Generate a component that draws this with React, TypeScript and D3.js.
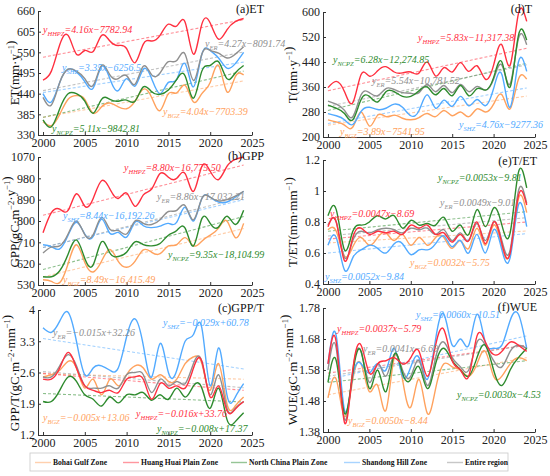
// @ts-nocheck
import React, { useEffect, useRef } from "react";
import * as d3 from "d3";

const years = [2000, 2001, 2002, 2003, 2004, 2005, 2006, 2007, 2008, 2009, 2010, 2011, 2012, 2013, 2014, 2015, 2016, 2017, 2018, 2019, 2020, 2021, 2022, 2023, 2024];
const xTicks = [2000, 2005, 2010, 2015, 2020, 2025];

// zone order: BGZ, HHPZ, NCPZ, SHZ, ER
const zoneNames = ["Bohai Gulf Zone", "Huang Huai Plain Zone", "North China Plain Zone", "Shandong Hill Zone", "Entire region"];
const zoneKeys = ["BGZ", "HHPZ", "NCPZ", "SHZ", "ER"];
const zoneColors = ["#ffa25e", "#ff2f3f", "#2e8b2e", "#52aaff", "#8f8f8f"];
const drawOrder = [0, 3, 4, 2, 1];

// (a) ET
const etBGZ = [365, 355, 385, 425, 435, 425, 388, 405, 415, 405, 400, 420, 452, 430, 395, 440, 442, 462, 418, 440, 470, 515, 445, 485, 490];
const etHHPZ = [476, 500, 570, 595, 545, 555, 552, 595, 580, 568, 560, 522, 572, 580, 595, 625, 620, 630, 545, 625, 628, 585, 610, 632, 640];
const etNCPZ = [370, 352, 400, 440, 440, 420, 388, 425, 425, 420, 423, 420, 458, 445, 438, 450, 478, 487, 428, 500, 515, 525, 480, 495, 515];
const etSHZ = [440, 418, 470, 505, 498, 472, 455, 512, 480, 448, 480, 460, 505, 480, 440, 470, 478, 520, 458, 545, 555, 535, 508, 520, 550];
const etER = [430, 410, 470, 505, 500, 480, 462, 515, 490, 480, 488, 465, 513, 490, 495, 525, 528, 545, 475, 545, 555, 548, 535, 545, 565];
const etTrendStart = [377, 537, 377, 443, 448];
const etTrendEnd = [474, 637, 500, 524, 551];
const etEqs = ["=4.04x\u22127703.39", "=4.16x\u22127782.94", "=5.11x\u22129842.81", "=3.35x\u22126256.5", "=4.27x\u22128091.74"];
const etTicks = [330, 385, 440, 495, 550, 605, 660];

// (d) T
const tBGZ = [255, 248, 238, 232, 280, 235, 270, 265, 270, 260, 255, 262, 275, 265, 285, 268, 280, 265, 290, 280, 305, 335, 290, 385, 385];
const tHHPZ = [358, 378, 345, 310, 400, 395, 412, 425, 408, 405, 408, 405, 440, 395, 422, 408, 438, 410, 428, 385, 430, 495, 430, 595, 570];
const tNCPZ = [302, 292, 275, 255, 320, 330, 312, 345, 345, 330, 330, 348, 360, 335, 355, 332, 365, 332, 355, 350, 390, 440, 360, 525, 510];
const tSHZ = [275, 268, 255, 240, 282, 295, 288, 292, 305, 295, 268, 285, 335, 292, 318, 298, 330, 300, 320, 300, 355, 400, 295, 440, 410];
const tER = [315, 305, 285, 265, 335, 342, 332, 355, 352, 342, 340, 342, 368, 345, 365, 342, 368, 345, 362, 350, 385, 430, 370, 515, 495];
const tTrendStart = [238, 348, 285, 243, 298];
const tTrendEnd = [331, 484, 436, 357, 431];
const tEqs = ["=3.89x\u22127541.95", "=5.83x\u221211,317.38", "=6.28x\u221212,274.85", "=4.76x\u22129277.36", "=5.54x\u221210,781.52"];
const tTicks = [200, 280, 360, 440, 520, 600];

// (b) GPP
const gppBGZ = [552, 545, 540, 620, 700, 625, 585, 630, 680, 630, 605, 630, 678, 668, 662, 695, 700, 730, 695, 715, 740, 770, 800, 730, 790];
const gppHHPZ = [750, 835, 850, 845, 915, 862, 895, 970, 935, 895, 918, 862, 910, 935, 1000, 985, 980, 1000, 925, 1030, 1010, 975, 1030, 1060, 1070];
const gppNCPZ = [565, 565, 590, 660, 720, 642, 615, 712, 665, 650, 668, 712, 700, 695, 705, 740, 760, 770, 695, 810, 790, 775, 820, 785, 845];
const gppSHZ = [700, 692, 682, 740, 795, 745, 735, 808, 748, 752, 732, 795, 780, 772, 778, 790, 795, 858, 800, 895, 900, 880, 880, 900, 925];
const gppER = [665, 690, 695, 745, 800, 742, 742, 815, 765, 760, 745, 800, 790, 785, 805, 840, 845, 865, 805, 895, 900, 885, 890, 905, 925];
const gppTrendStart = [564, 824, 595, 688, 688];
const gppTrendEnd = [768, 1036, 819, 890, 900];
const gppEqs = ["=8.49x\u221216,415.49", "=8.80x\u221216,775.50", "=9.35x\u221218,104.99", "=8.44x\u221216,192.26", "=8.86x\u221217,032.21"];
const gppTicks = [530, 620, 710, 800, 890, 980, 1070];

// (e) T/ET
const teBGZ = [0.75, 0.74, 0.58, 0.64, 0.7, 0.65, 0.7, 0.73, 0.68, 0.72, 0.65, 0.7, 0.65, 0.7, 0.7, 0.63, 0.68, 0.63, 0.76, 0.65, 0.78, 0.64, 0.6, 0.95, 0.86];
const teHHPZ = [0.77, 0.8, 0.55, 0.7, 0.76, 0.72, 0.74, 0.73, 0.74, 0.72, 0.78, 0.76, 0.78, 0.72, 0.73, 0.67, 0.72, 0.68, 0.8, 0.66, 0.8, 0.66, 0.6, 0.97, 0.91];
const teNCPZ = [0.84, 0.88, 0.62, 0.74, 0.78, 0.8, 0.84, 0.82, 0.84, 0.76, 0.81, 0.78, 0.79, 0.78, 0.83, 0.74, 0.78, 0.72, 0.88, 0.77, 0.89, 0.78, 0.73, 1.12, 1.02];
const teSHZ = [0.65, 0.7, 0.49, 0.57, 0.62, 0.65, 0.63, 0.6, 0.66, 0.66, 0.59, 0.62, 0.62, 0.66, 0.71, 0.64, 0.68, 0.6, 0.72, 0.6, 0.75, 0.62, 0.57, 0.91, 0.77];
const teER = [0.78, 0.8, 0.57, 0.68, 0.74, 0.73, 0.75, 0.76, 0.75, 0.73, 0.76, 0.75, 0.76, 0.72, 0.75, 0.68, 0.73, 0.68, 0.79, 0.68, 0.8, 0.68, 0.62, 1.0, 0.92];
const teTrendStart = [0.665, 0.69, 0.74, 0.6, 0.71];
const teTrendEnd = [0.742, 0.8, 0.867, 0.725, 0.828];
const teEqs = ["=0.0032x\u22125.75", "=0.0047x\u22128.69", "=0.0053x\u22129.81", "=0.0052x\u22129.84", "=0.0049x\u22129.01"];
const teTicks = [0.4, 0.6, 0.8, 1, 1.2];

// (c) GPP/T
const gtBGZ = [2.5, 2.55, 2.65, 2.85, 2.7, 2.25, 2.45, 2.1, 2.45, 2.3, 2.55, 2.75, 2.7, 2.45, 2.55, 2.4, 2.45, 2.8, 2.95, 2.8, 2.2, 2.8, 1.9, 1.85, 2.05];
const gtHHPZ = [2.45, 2.45, 2.7, 3.05, 2.7, 2.3, 2.2, 2.15, 2.2, 2.15, 2.45, 2.5, 2.45, 2.0, 2.35, 2.25, 2.3, 2.25, 2.7, 2.85, 2.05, 2.3, 1.75, 1.78, 1.95];
const gtNCPZ = [1.95, 1.95, 2.2, 2.5, 2.4, 2.1, 2.0, 1.85, 2.05, 1.92, 2.1, 2.1, 2.15, 1.98, 2.1, 2.0, 2.25, 2.05, 2.3, 2.25, 1.8, 2.25, 1.55, 1.5, 1.7];
const gtSHZ = [3.6, 3.5, 3.75, 3.95, 3.3, 2.55, 2.7, 2.75, 2.65, 2.7, 3.4, 3.8, 3.2, 2.5, 3.25, 2.6, 2.65, 3.3, 3.45, 3.6, 2.3, 3.15, 2.1, 2.05, 2.35];
const gtER = [2.5, 2.5, 2.75, 3.0, 2.75, 2.3, 2.25, 2.25, 2.3, 2.25, 2.55, 2.6, 2.55, 2.15, 2.45, 2.3, 2.4, 2.35, 2.8, 2.85, 2.1, 2.55, 1.8, 1.8, 1.95];
const gtTrendStart = [2.57, 2.58, 2.13, 3.36, 2.62];
const gtTrendEnd = [2.45, 2.2, 1.94, 2.68, 2.26];
const gtEqs = ["=\u22120.005x+13.06", "=\u22120.016x+33.76", "=\u22120.008x+17.37", "=\u22120.029x+60.78", "=\u22120.015x+32.26"];
const gtTicks = [1.2, 1.9, 2.6, 3.3, 4];

// (f) WUE
const wBGZ = [1.49, 1.55, 1.43, 1.55, 1.6, 1.51, 1.53, 1.45, 1.62, 1.55, 1.46, 1.55, 1.44, 1.52, 1.6, 1.59, 1.58, 1.56, 1.6, 1.64, 1.56, 1.56, 1.6, 1.62, 1.61];
const wHHPZ = [1.6, 1.67, 1.41, 1.58, 1.66, 1.57, 1.6, 1.61, 1.62, 1.6, 1.62, 1.64, 1.56, 1.66, 1.71, 1.61, 1.58, 1.56, 1.69, 1.67, 1.63, 1.64, 1.67, 1.66, 1.64];
const wNCPZ = [1.54, 1.61, 1.44, 1.57, 1.64, 1.52, 1.58, 1.51, 1.63, 1.57, 1.55, 1.59, 1.52, 1.6, 1.65, 1.61, 1.58, 1.56, 1.62, 1.66, 1.58, 1.53, 1.58, 1.62, 1.65];
const wSHZ = [1.6, 1.69, 1.45, 1.56, 1.6, 1.57, 1.6, 1.58, 1.65, 1.56, 1.59, 1.62, 1.55, 1.68, 1.76, 1.66, 1.68, 1.66, 1.76, 1.67, 1.65, 1.66, 1.74, 1.76, 1.65];
const wER = [1.58, 1.65, 1.42, 1.58, 1.64, 1.54, 1.6, 1.56, 1.63, 1.58, 1.56, 1.61, 1.53, 1.62, 1.67, 1.62, 1.59, 1.58, 1.67, 1.66, 1.61, 1.59, 1.64, 1.66, 1.65];
const wTrendStart = [1.5, 1.57, 1.54, 1.55, 1.56];
const wTrendEnd = [1.62, 1.66, 1.61, 1.69, 1.66];
const wEqs = ["=0.0050x\u22128.44", "=0.0037x\u22125.79", "=0.0030x\u22124.53", "=0.0060x\u221210.51", "=0.0041x\u22126.69"];
const wTicks = ["1.38", "1.48", "1.58", "1.68", "1.78"];

const serif = "'Liberation Serif', 'Times New Roman', serif";
const xDomain = [1999.4, 2025];

// layout of the six panels (pixel boxes, label spots)
const panels = [
  {
    title: "(a)ET", yLabel: [["ET(mm\u00b7y", 0], ["\u22121", 1], [")", 0]],
    series: [etBGZ, etHHPZ, etNCPZ, etSHZ, etER], trendStart: etTrendStart, trendEnd: etTrendEnd, eqs: etEqs,
    yDomain: [330, 660], yTicks: etTicks, left: 38, right: 252, top: 11, bottom: 135,
    titlePos: [264, 13], yLabelPos: [16, 73],
    eqPos: [[163, 115], [43, 33], [52, 132], [62, 71], [205, 47]],
  },
  {
    title: "(d)T", yLabel: [["T(mm\u00b7y", 0], ["\u22121", 1], [")", 0]],
    series: [tBGZ, tHHPZ, tNCPZ, tSHZ, tER], trendStart: tTrendStart, trendEnd: tTrendEnd, eqs: tEqs,
    yDomain: [200, 600], yTicks: tTicks, left: 323, right: 535, top: 12, bottom: 137,
    titlePos: [532, 13], yLabelPos: [294, 75],
    eqPos: [[340, 135], [418, 41], [333, 63], [459, 128], [372, 84]],
  },
  {
    title: "(b)GPP", yLabel: [["GPP(gC\u00b7m", 0], ["\u22122", 1], ["\u00b7y", 0], ["\u22121", 1], [")", 0]],
    series: [gppBGZ, gppHHPZ, gppNCPZ, gppSHZ, gppER], trendStart: gppTrendStart, trendEnd: gppTrendEnd, eqs: gppEqs,
    yDomain: [530, 1070], yTicks: gppTicks, left: 38, right: 252, top: 157, bottom: 285,
    titlePos: [264, 160], yLabelPos: [16, 222],
    eqPos: [[63, 283], [124, 171], [168, 258], [63, 219], [157, 200]],
  },
  {
    title: "(e)T/ET", yLabel: [["T/ET(mm\u00b7mm", 0], ["\u22121", 1], [")", 0]],
    series: [teBGZ, teHHPZ, teNCPZ, teSHZ, teER], trendStart: teTrendStart, trendEnd: teTrendEnd, eqs: teEqs,
    yDomain: [0.4, 1.2], yTicks: teTicks, left: 323, right: 535, top: 160, bottom: 284,
    titlePos: [537, 165], yLabelPos: [294, 222],
    eqPos: [[410, 266], [330, 217], [438, 181], [325, 280], [440, 206]],
  },
  {
    title: "(c)GPP/T", yLabel: [["GPP/T(gC\u00b7m", 0], ["\u22122", 1], ["\u00b7mm", 0], ["\u22121", 1], [")", 0]],
    series: [gtBGZ, gtHHPZ, gtNCPZ, gtSHZ, gtER], trendStart: gtTrendStart, trendEnd: gtTrendEnd, eqs: gtEqs,
    yDomain: [1.2, 4], yTicks: gtTicks, left: 38, right: 252, top: 310, bottom: 435,
    titlePos: [264, 312], yLabelPos: [16, 373],
    eqPos: [[43, 421], [136, 417], [157, 432], [163, 326], [53, 336]],
  },
  {
    title: "(f)WUE", yLabel: [["WUE(gC\u00b7m", 0], ["\u22122", 1], ["\u00b7mm", 0], ["\u22121", 1], [")", 0]],
    series: [wBGZ, wHHPZ, wNCPZ, wSHZ, wER], trendStart: wTrendStart, trendEnd: wTrendEnd, eqs: wEqs,
    yDomain: [1.38, 1.78], yTicks: wTicks.map(Number), yTickLabels: wTicks, left: 323, right: 535, top: 308, bottom: 432,
    titlePos: [537, 311], yLabelPos: [294, 370],
    eqPos: [[348, 424], [337, 332], [457, 398], [416, 318], [363, 352]],
  },
];

function drawPanel(svg, p) {
  const g = svg.append("g");
  const x = d3.scaleLinear().domain(xDomain).range([p.left, p.right]);
  const y = d3.scaleLinear().domain(p.yDomain).range([p.bottom, p.top]);

  // dashed trend lines
  const straight = d3.line().x(d => x(d[0])).y(d => y(d[1]));
  p.trendStart.forEach((s, i) => {
    g.append("path")
      .datum([[years[0], s], [years[years.length - 1], p.trendEnd[i]]])
      .attr("d", straight)
      .attr("fill", "none")
      .attr("stroke", zoneColors[i])
      .attr("stroke-opacity", 0.55)
      .attr("stroke-width", 1.1)
      .attr("stroke-dasharray", "3 2");
  });

  // smoothed series
  const curve = d3.line().x((d, j) => x(years[j])).y(d => y(d)).curve(d3.curveNatural);
  drawOrder.forEach(i => {
    g.append("path")
      .datum(p.series[i])
      .attr("d", curve)
      .attr("fill", "none")
      .attr("stroke", zoneColors[i])
      .attr("stroke-width", 1.4);
  });

  // axes
  const xAxis = g.append("g")
    .attr("transform", `translate(0,${p.bottom})`)
    .call(d3.axisBottom(x).tickValues(xTicks).tickFormat(d3.format("d")).tickSizeInner(-3).tickSizeOuter(0).tickPadding(3));
  const yAxis = g.append("g")
    .attr("transform", `translate(${p.left},0)`)
    .call(d3.axisLeft(y).tickValues(p.yTicks).tickFormat((d, i) => (p.yTickLabels ? p.yTickLabels[i] : String(d))).tickSizeInner(-3).tickSizeOuter(0).tickPadding(3));
  [xAxis, yAxis].forEach(a => {
    a.attr("font-family", serif).attr("font-size", 12);
    a.selectAll("path,line").attr("stroke", "#333");
    a.selectAll("text").attr("fill", "#222");
  });

  // panel title
  g.append("text")
    .attr("x", p.titlePos[0]).attr("y", p.titlePos[1])
    .attr("text-anchor", "end")
    .attr("font-family", serif).attr("font-size", 12)
    .attr("fill", "#111")
    .text(p.title);

  // y axis label
  const yl = g.append("text")
    .attr("transform", `translate(${p.yLabelPos[0]},${p.yLabelPos[1]}) rotate(-90)`)
    .attr("text-anchor", "middle")
    .attr("dominant-baseline", "middle")
    .attr("font-family", serif).attr("font-size", 13)
    .attr("fill", "#111");
  p.yLabel.forEach(([txt, sup]) => {
    yl.append("tspan")
      .attr("font-size", sup ? 8.5 : 13)
      .attr("dy", sup ? -4 : 0)
      .text(txt);
    if (sup) yl.append("tspan").attr("dy", 4).text("");
  });

  // equations
  p.eqs.forEach((eq, i) => {
    const t = g.append("text")
      .attr("x", p.eqPos[i][0]).attr("y", p.eqPos[i][1])
      .attr("font-family", serif).attr("font-style", "italic").attr("font-size", 10)
      .attr("fill", zoneColors[i]);
    t.append("tspan").text("y");
    t.append("tspan").attr("font-size", 6.5).attr("dy", 2.5).text(zoneKeys[i]);
    t.append("tspan").attr("dy", -2.5).text(eq);
  });
}

function drawLegend(svg) {
  const g = svg.append("g");
  g.append("rect")
    .attr("x", 30).attr("y", 453).attr("width", 478).attr("height", 18)
    .attr("fill", "#fff").attr("stroke", "#c8c8c8").attr("stroke-width", 0.8);
  const itemX = d3.scaleOrdinal().domain(zoneNames).range([35, 123, 231, 344, 447]);
  zoneNames.forEach((name, i) => {
    const x0 = itemX(name);
    g.append("line")
      .attr("x1", x0).attr("x2", x0 + 16).attr("y1", 462.5).attr("y2", 462.5)
      .attr("stroke", zoneColors[i]).attr("stroke-opacity", 0.5).attr("stroke-width", 1.4);
    g.append("text")
      .attr("x", x0 + 18).attr("y", 465.2)
      .attr("font-family", serif).attr("font-weight", "bold").attr("font-size", 7.6)
      .attr("fill", "#111")
      .text(name);
  });
}

export default function App() {
  const svgRef = useRef(null);

  useEffect(() => {
    const svg = d3.select(svgRef.current);
    svg.selectAll("*").remove();
    panels.forEach(p => drawPanel(svg, p));
    drawLegend(svg);
  }, []);

  return (
    <svg
      ref={svgRef}
      width={550}
      height={476}
      style={{ position: "absolute", left: 0, top: 0, background: "#fff" }}
    />
  );
}
